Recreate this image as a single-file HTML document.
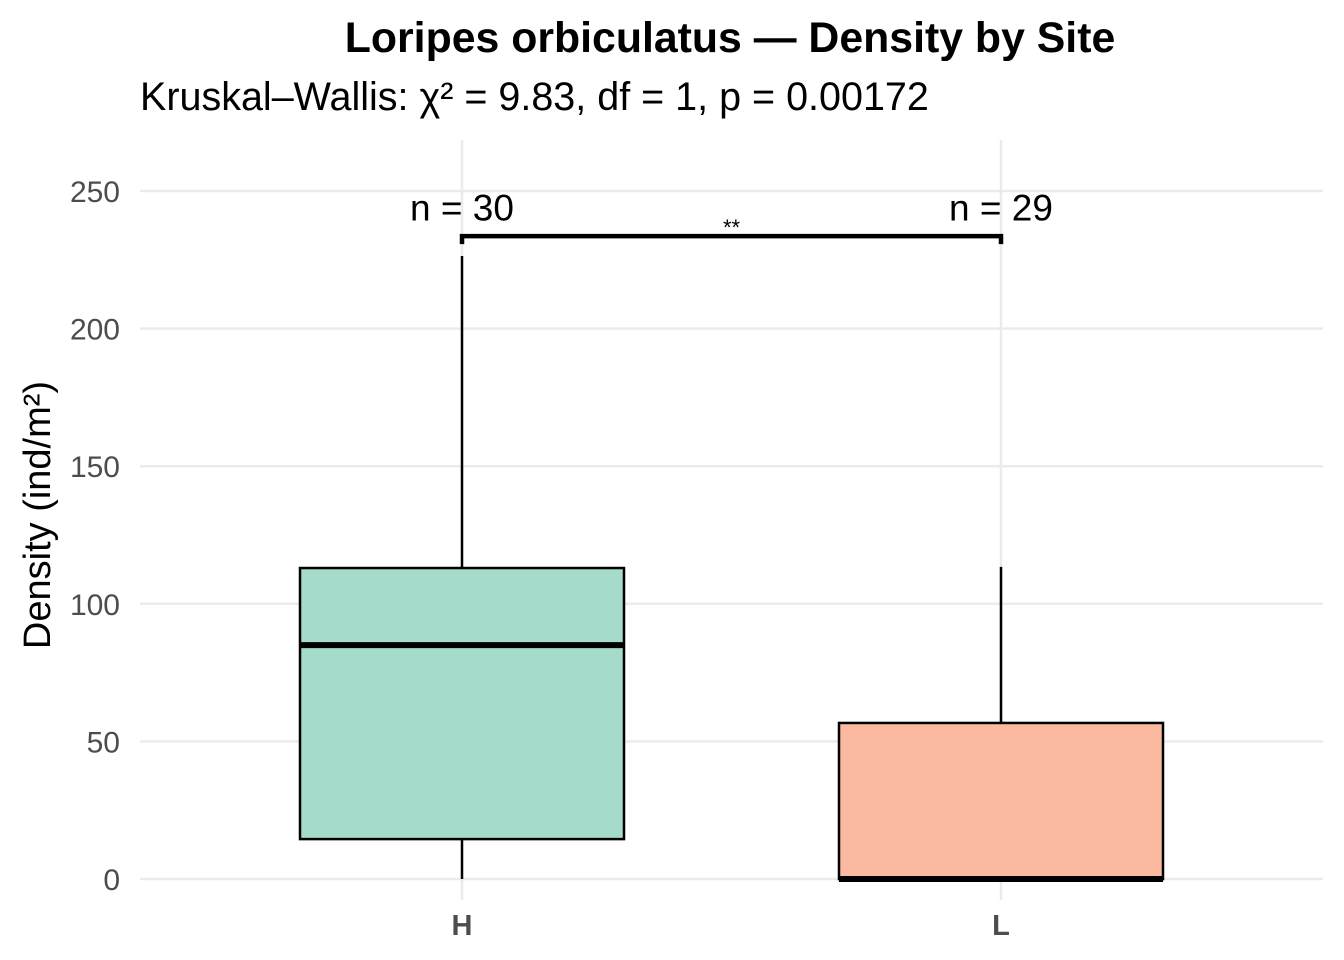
<!DOCTYPE html>
<html><head><meta charset="utf-8"><style>
body{margin:0;background:#fff;}
svg{display:block;font-family:"Liberation Sans",Arial,sans-serif;}
</style></head><body>
<svg id="chart" width="1344" height="960" viewBox="0 0 1344 960">
<text x="730" y="52" text-anchor="middle" font-size="42.8" font-weight="bold" fill="#000">Loripes orbiculatus — Density by Site</text>
<text x="140" y="110" font-size="39.5" fill="#000">Kruskal–Wallis: χ² = 9.83, df = 1, p = 0.00172</text>
<text transform="translate(50,515) rotate(-90)" text-anchor="middle" font-size="38" fill="#000">Density (ind/m²)</text>
<g id="grid"></g><g id="marks"></g>
</svg>
<script>
const categories=["H","L"];
const fills=["#a5dbca","#fbb9a0"];
const q1=[14.5,0];
const med=[85,0];
const q3=[113,56.7];
const wlo=[0,0];
const whi=[226.4,113.4];
const nLabels=["n = 30","n = 29"];
const yTicks=[0,50,100,150,200,250];
const sigLabel="**";
const bracketY=233.6;
const nY=244;
const NS="http://www.w3.org/2000/svg";
const y=v=>879-v*2.752;
const x=i=>462+i*539;
const hw=162;
const grid=document.getElementById('grid'),marks=document.getElementById('marks');
function mk(p,tag,a){const e=document.createElementNS(NS,tag);for(const k in a)e.setAttribute(k,a[k]);p.appendChild(e);return e;}
yTicks.forEach(t=>{
 const l=mk(grid,'line',{x1:140,x2:1323,y1:y(t),y2:y(t),stroke:'#ebebeb','stroke-width':2.5});
 
 
 const tx=mk(grid,'text',{x:120,y:y(t)+11,'text-anchor':'end','font-size':30,fill:'#4d4d4d'});
 tx.textContent=t;
 
 
});
categories.forEach((c,i)=>{
 const g=mk(grid,'line',{x1:x(i),x2:x(i),y1:140,y2:900,stroke:'#ebebeb','stroke-width':2.5});
 
 
 const tx=mk(grid,'text',{x:x(i),y:935,'text-anchor':'middle','font-size':29,'font-weight':'bold',fill:'#4d4d4d'});
 tx.textContent=c;
 
 
 const w1=mk(marks,'line',{x1:x(i),x2:x(i),y1:y(q3[i]),y2:y(whi[i]),stroke:'#000','stroke-width':2.5});
 
 
 const w2=mk(marks,'line',{x1:x(i),x2:x(i),y1:y(q1[i]),y2:y(wlo[i]),stroke:'#000','stroke-width':2.5});
 
 
 const b=mk(marks,'rect',{x:x(i)-hw,y:y(q3[i]),width:2*hw,height:y(q1[i])-y(q3[i]),fill:fills[i],stroke:'#000','stroke-width':2.5});
 
 
 const m=mk(marks,'line',{x1:x(i)-hw,x2:x(i)+hw,y1:y(med[i]),y2:y(med[i]),stroke:'#000','stroke-width':6});
 
 
 const n=mk(marks,'text',{x:x(i),y:y(nY)+13,'text-anchor':'middle','font-size':37,fill:'#000'});
 n.textContent=nLabels[i];
 
 
});
const by=y(bracketY);
const br=mk(marks,'path',{d:`M${x(0)} ${by+8}V${by}H${x(1)}V${by+8}`,fill:'none',stroke:'#000','stroke-width':4.5});


const s=mk(marks,'text',{x:(x(0)+x(1))/2,y:by-1,'text-anchor':'middle','font-size':22,fill:'#000'});
s.textContent=sigLabel;


</script>
</body></html>
